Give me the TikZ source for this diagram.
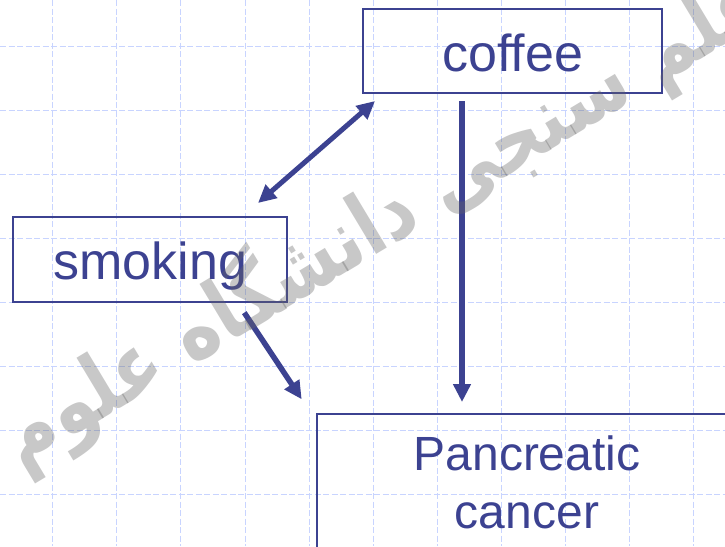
\documentclass[tikz,border=0pt]{standalone}
\usepackage{fontspec}
\setmainfont{Liberation Sans}
\newfontfamily\wmfont[Script=Arabic, FakeStretch=0.83]{DejaVu Sans}
\TeXXeTstate=1
\usetikzlibrary{arrows.meta,calc}
\definecolor{ink}{RGB}{60,66,145}
\definecolor{gridblue}{RGB}{200,212,255}

\begin{document}
\begin{tikzpicture}[x=1pt,y=-1pt,
  box/.style={draw=ink, line width=2pt, inner sep=0pt, text=ink,
    font=\fontsize{52}{62}\selectfont, text height=39.5pt, text depth=0pt},
  lbl/.style={text=ink, font=\fontsize{48}{58}\selectfont, inner sep=0pt, anchor=base},
  link/.style={draw=ink, line width=5.5pt, -{Triangle[length=18pt,width=17pt]}},
  twoway/.style={draw=ink, line width=5pt,
    {Triangle[length=18pt,width=17pt]}-{Triangle[length=18pt,width=17pt]}},
  gridline/.style={draw=gridblue, line width=1pt, dash pattern=on 6pt off 2.5pt},
  stamp/.style={rotate=31, text=black!60, text opacity=0.36, inner sep=0pt,
    font=\wmfont\bfseries\fontsize{86}{94}\selectfont}
]
\useasboundingbox (0,0) rectangle (725,546);

% dashed background grid
\foreach \i in {0,...,10}
  \draw[gridline] (52.7+64.1*\i,0) -- (52.7+64.1*\i,546);
\foreach \j in {0,...,7}
  \draw[gridline] (0,46.7+64*\j) -- (725,46.7+64*\j);

% boxes
\node[box, minimum width=299pt, minimum height=84pt] (coffee) at (512.8,51.3) {coffee};
\node[box, minimum width=274pt, minimum height=84.4pt] (smoking) at (150.3,259.5) {smoking};
\node[draw=ink, line width=2pt, inner sep=0pt, anchor=north west,
      minimum width=440pt, minimum height=200pt] (cancer) at (316,413.3) {};
\node[lbl] (pancreatic) at (527,470.7) {Pancreatic};
\node[lbl] (cancerword) at (527,528.3) {cancer};

% connectors
\coordinate (cfout) at ($(coffee.south)+(-50.8,6.7)$);
\draw[link, shorten >=11.3pt] (cfout) -- (cfout |- cancer.north);
\draw[twoway] ($(coffee.south west)+(12.7,6.7)$) -- ($(smoking.north east)+(-30.3,-13.3)$);
\draw[link] ($(smoking.south east)+(-44,10)$) -- ($(cancer.north west)+(-14.3,-14)$);

% watermark
\node[stamp] (wm) at (382,218) {\beginR علم سنجی دانشگاه علوم\endR};
\end{tikzpicture}
\end{document}
